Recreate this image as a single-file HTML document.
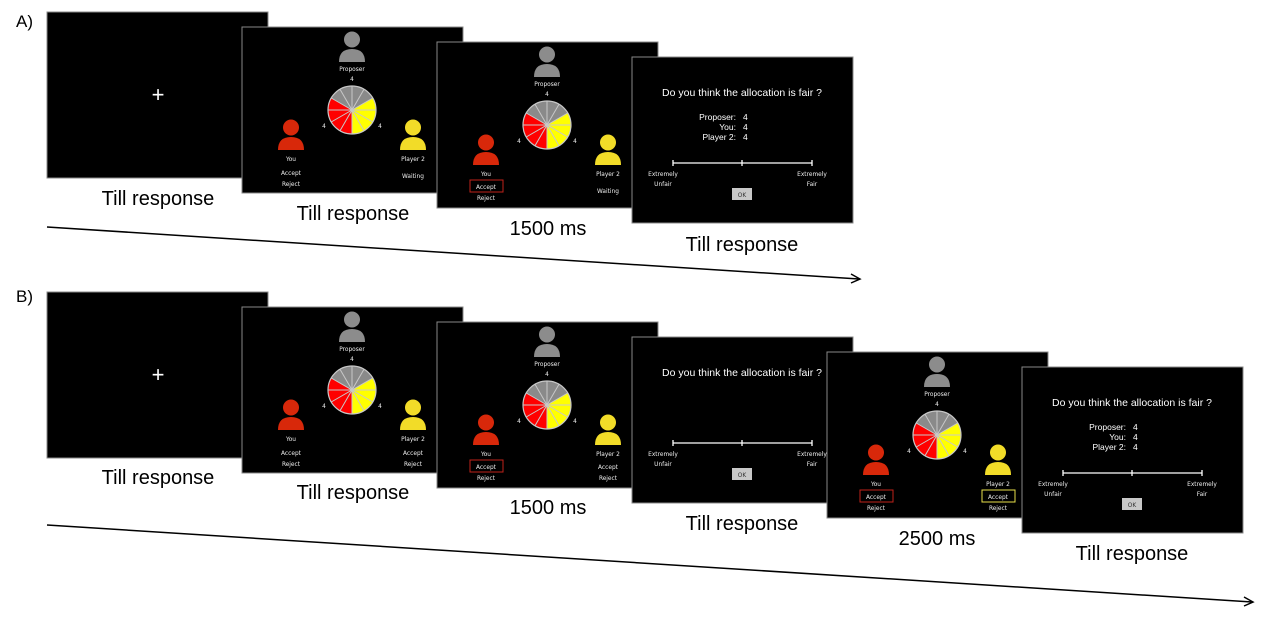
<!DOCTYPE html>
<html><head><meta charset="utf-8"><style>
html,body{margin:0;padding:0;background:#fff;}
svg{display:block;}
.l{font-family:"Liberation Sans",sans-serif;font-size:20px;fill:#000;text-anchor:middle;}
.s{font-family:"DejaVu Sans Condensed","Liberation Sans",sans-serif;font-size:6.5px;fill:#eee;text-anchor:middle;}
.t{font-family:"Liberation Sans",sans-serif;font-size:10.5px;fill:#fff;text-anchor:middle;}
.v{font-family:"Liberation Sans",sans-serif;font-size:8.5px;fill:#fff;}
</style></head><body>
<svg width="1267" height="625" viewBox="0 0 1267 625" xmlns="http://www.w3.org/2000/svg">
<defs>
<g id="pie">
<path d="M0,0 L-20.8,-12 A24,24 0 0 1 20.8,-12 Z" fill="#8a8a8a"/>
<path d="M0,0 L20.8,-12 A24,24 0 0 1 0,24 Z" fill="#ffff00"/>
<path d="M0,0 L0,24 A24,24 0 0 1 -20.8,-12 Z" fill="#ff0000"/>
<g stroke="#c8c8c8" stroke-width="1">
<line x1="0" y1="-24" x2="0" y2="24"/><line x1="12" y1="-20.8" x2="-12" y2="20.8"/><line x1="20.8" y1="-12" x2="-20.8" y2="12"/>
<line x1="24" y1="0" x2="-24" y2="0"/><line x1="20.8" y1="12" x2="-20.8" y2="-12"/><line x1="12" y1="20.8" x2="-12" y2="-20.8"/>
</g>
<circle r="24" fill="none" stroke="#c8c8c8" stroke-width="1.2"/>
</g>
<g id="person"><circle cx="0" cy="-7.5" r="8"/><path d="M-13,15 Q-13,2 0,2 Q13,2 13,15 Z"/></g>
<g id="game">
<rect x="0" y="0" width="221" height="166" fill="#000" stroke="#888" stroke-width="1"/>
<use href="#person" x="110" y="20" fill="#8c8c8c"/>
<text class="s" x="110" y="44">Proposer</text>
<text class="s" x="110" y="54">4</text>
<use href="#pie" x="110" y="83"/>
<text class="s" x="82" y="101">4</text>
<text class="s" x="138" y="101">4</text>
<use href="#person" x="49" y="108" fill="#d8280a"/>
<text class="s" x="49" y="134">You</text>
<use href="#person" x="171" y="108" fill="#f2dc28"/>
<text class="s" x="171" y="134">Player 2</text>
</g>
<g id="rate">
<rect x="0" y="0" width="221" height="166" fill="#000" stroke="#888" stroke-width="1"/>
<text class="t" x="110" y="39">Do you think the allocation is fair ?</text>
<g stroke="#fff" stroke-width="1.3"><line x1="41" y1="106" x2="180" y2="106"/><line x1="41" y1="103" x2="41" y2="109"/><line x1="110" y1="103" x2="110" y2="109"/><line x1="180" y1="103" x2="180" y2="109"/></g>
<text class="s" x="31" y="119">Extremely</text><text class="s" x="31" y="129">Unfair</text>
<text class="s" x="180" y="119">Extremely</text><text class="s" x="180" y="129">Fair</text>
<rect x="100" y="131" width="20" height="12" fill="#c8c8c8"/>
<text class="s" x="110" y="140" style="fill:#333">OK</text>
</g>
</defs>

<!-- Row A -->
<text x="16" y="27" font-family="Liberation Sans,sans-serif" font-size="17">A)</text>
<rect x="47" y="12" width="221" height="166" fill="#000" stroke="#888"/>
<text x="158" y="102" fill="#fff" font-family="Liberation Sans,sans-serif" font-size="22" text-anchor="middle">+</text>
<text class="l" x="158" y="205">Till response</text>

<g transform="translate(242,27)"><use href="#game"/>
<text class="s" x="49" y="148">Accept</text><text class="s" x="49" y="159">Reject</text>
<text class="s" x="171" y="151">Waiting</text></g>
<text class="l" x="353" y="220">Till response</text>

<g transform="translate(437,42)"><use href="#game"/>
<rect x="33" y="138" width="33" height="12" fill="none" stroke="#c0221a" stroke-width="1"/>
<text class="s" x="49" y="147">Accept</text><text class="s" x="49" y="158">Reject</text>
<text class="s" x="171" y="151">Waiting</text></g>
<text class="l" x="548" y="235">1500 ms</text>

<g transform="translate(632,57)"><use href="#rate"/>
<text class="v" x="104" y="63" text-anchor="end">Proposer:</text><text class="v" x="111" y="63">4</text>
<text class="v" x="104" y="73" text-anchor="end">You:</text><text class="v" x="111" y="73">4</text>
<text class="v" x="104" y="83" text-anchor="end">Player 2:</text><text class="v" x="111" y="83">4</text></g>
<text class="l" x="742" y="251">Till response</text>

<line x1="47" y1="227" x2="859" y2="279" stroke="#000" stroke-width="1.5"/>
<path d="M851,274 L860,279 L851,283" fill="none" stroke="#000" stroke-width="1.5"/>

<!-- Row B -->
<text x="16" y="302" font-family="Liberation Sans,sans-serif" font-size="17">B)</text>
<rect x="47" y="292" width="221" height="166" fill="#000" stroke="#888"/>
<text x="158" y="382" fill="#fff" font-family="Liberation Sans,sans-serif" font-size="22" text-anchor="middle">+</text>
<text class="l" x="158" y="484">Till response</text>

<g transform="translate(242,307)"><use href="#game"/>
<text class="s" x="49" y="148">Accept</text><text class="s" x="49" y="159">Reject</text>
<text class="s" x="171" y="148">Accept</text><text class="s" x="171" y="159">Reject</text></g>
<text class="l" x="353" y="499">Till response</text>

<g transform="translate(437,322)"><use href="#game"/>
<rect x="33" y="138" width="33" height="12" fill="none" stroke="#c0221a" stroke-width="1"/>
<text class="s" x="49" y="147">Accept</text><text class="s" x="49" y="158">Reject</text>
<text class="s" x="171" y="147">Accept</text><text class="s" x="171" y="158">Reject</text></g>
<text class="l" x="548" y="514">1500 ms</text>

<g transform="translate(632,337)"><use href="#rate"/></g>
<text class="l" x="742" y="530">Till response</text>

<g transform="translate(827,352)"><use href="#game"/>
<rect x="33" y="138" width="33" height="12" fill="none" stroke="#c0221a" stroke-width="1"/>
<rect x="155" y="138" width="33" height="12" fill="none" stroke="#e8e04a" stroke-width="1"/>
<text class="s" x="49" y="147">Accept</text><text class="s" x="49" y="158">Reject</text>
<text class="s" x="171" y="147">Accept</text><text class="s" x="171" y="158">Reject</text></g>
<text class="l" x="937" y="545">2500 ms</text>

<g transform="translate(1022,367)"><use href="#rate"/>
<text class="v" x="104" y="63" text-anchor="end">Proposer:</text><text class="v" x="111" y="63">4</text>
<text class="v" x="104" y="73" text-anchor="end">You:</text><text class="v" x="111" y="73">4</text>
<text class="v" x="104" y="83" text-anchor="end">Player 2:</text><text class="v" x="111" y="83">4</text></g>
<text class="l" x="1132" y="560">Till response</text>

<line x1="47" y1="525" x2="1252" y2="602" stroke="#000" stroke-width="1.5"/>
<path d="M1244,597 L1253,602 L1244,606" fill="none" stroke="#000" stroke-width="1.5"/>
</svg>
</body></html>
